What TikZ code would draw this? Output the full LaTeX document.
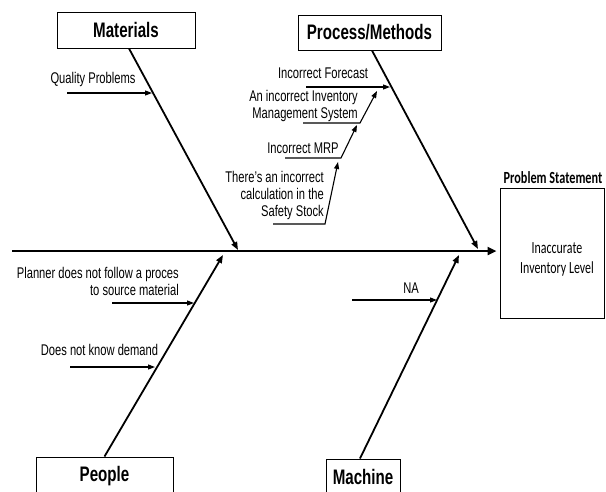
\documentclass[tikz,border=0pt]{standalone}
\usepackage{fontspec}
\setmainfont{Liberation Sans}[FakeStretch=0.72]
\newfontfamily\calibfont{Carlito}[FakeStretch=0.7]
\newfontfamily\calibboldfont{Carlito}[FakeStretch=0.72]
\usetikzlibrary{arrows.meta}
\begin{document}
\begin{tikzpicture}[x=1pt,y=-1pt,
  catbox/.style={draw, line width=1pt, font=\bfseries\fontsize{21}{23}\selectfont, inner sep=0pt},
  cause/.style={font=\fontsize{15.5}{17}\selectfont, inner sep=0pt},
  bone/.style={line width=1.8pt, -{Triangle[length=8pt,width=6pt]}},
  twig/.style={line width=1.1pt, -{Triangle[length=7pt,width=5pt]}},
  spinestyle/.style={line width=2.6pt, -{Triangle[length=9pt,width=8pt]}}]
\useasboundingbox[fill=white] (0,0) rectangle (606,491);

% category boxes
\node[catbox, minimum width=138, minimum height=36] (mat) at (126,30) {Materials};
\node[catbox, minimum width=143, minimum height=35] (proc) at (369.5,32.5) {Process/Methods};
\node[catbox, minimum width=137, minimum height=38] (ppl) at (104.5,476) {People};
\node[catbox, minimum width=74, minimum height=36] (mach) at (363,477) {Machine};

% problem statement
\node[draw, line width=1pt, minimum width=104, minimum height=130, inner sep=0pt] (prob) at (552,253) {};
\node[font=\calibfont\fontsize{17}{20}\selectfont, align=center, inner sep=0pt] (probtxt) at (557,259) {Inaccurate\\Inventory Level};
\node[font=\calibboldfont\bfseries\fontsize{17}{19}\selectfont, inner sep=0pt] (probtitle) at (553,177.5) {Problem Statement};

% spine
\coordinate (spineL) at (12,251);
\draw[spinestyle] (spineL) -- ([xshift=-3]prob.west |- spineL);

% main bones
\coordinate (matTip) at (238,250);
\coordinate (procTip) at (478,249);
\coordinate (pplTip) at (223,255);
\coordinate (machTip) at (459,255);
\draw[bone] ([xshift=3]mat.south) -- (matTip);
\draw[bone] ([xshift=2.5]proc.south) -- (procTip);
\draw[bone] (ppl.north) -- (pplTip);
\draw[bone] ([xshift=-3]mach.north) -- (machTip);

% Materials causes
\node[cause] (q) at (93,79) {Quality Problems};
\coordinate (qS) at (67,93);
\coordinate (qT) at (152,93);
\draw[twig] (qS) -- (qT);

% Process causes
\node[cause] (fc) at (323,73) {Incorrect Forecast};
\coordinate (fcS) at (306,87);
\coordinate (fcT) at (390,87);
\draw[twig] (fcS) -- (fcT);

\node[cause, align=right, anchor=east] (ims) at (358,106) {An incorrect Inventory\\Management System};
\coordinate (imsS) at (303,123);
\coordinate (imsK) at (360,123);
\coordinate (imsT) at (377,91);
\draw[twig] (imsS) -- (imsK) -- (imsT);

\node[cause] (mrp) at (303,148) {Incorrect MRP};
\coordinate (mrpS) at (285,158);
\coordinate (mrpK) at (341,158);
\coordinate (mrpT) at (357,125);
\draw[twig] (mrpS) -- (mrpK) -- (mrpT);

\node[cause, align=right, anchor=east] (ss) at (324,195) {There's an incorrect\\calculation in the\\Safety Stock};
\coordinate (ssS) at (273,224);
\coordinate (ssK) at (325,224);
\coordinate (ssT) at (338,162);
\draw[twig] (ssS) -- (ssK) -- (ssT);

% People causes
\node[cause, align=right, anchor=east] (pl) at (179,281.5) {Planner does not follow a proces\\to source material};
\coordinate (plS) at (112,303);
\coordinate (plT) at (194,303);
\draw[twig] (plS) -- (plT);

\node[cause] (dm) at (99.5,350) {Does not know demand};
\coordinate (dmS) at (70,367);
\coordinate (dmT) at (155,367);
\draw[twig] (dmS) -- (dmT);

% Machine causes
\node[cause] (na) at (411,288) {NA};
\coordinate (naS) at (352,300);
\coordinate (naT) at (437,300);
\draw[twig] (naS) -- (naT);
\end{tikzpicture}
\end{document}
